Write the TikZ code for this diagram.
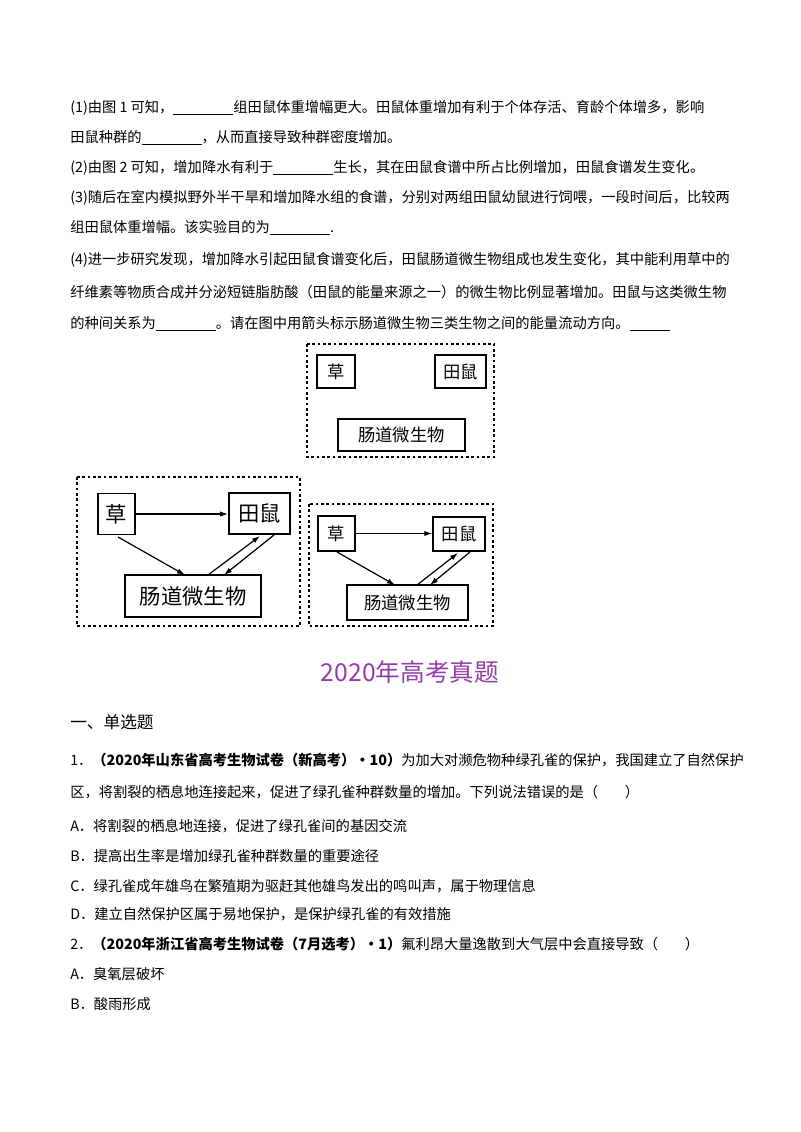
\documentclass[tikz,border=0pt]{standalone}
\usepackage{fontspec}
\setmainfont{Noto Sans CJK SC}
\newfontfamily\cjk{Noto Sans CJK SC}
\usetikzlibrary{arrows.meta}
\definecolor{ttl}{RGB}{150,60,170}
\tikzset{
 ln/.style={anchor=west,inner sep=0pt,font=\fontsize{10.7pt}{12pt}\selectfont},
 bx/.style={draw,line width=1.1pt,inner sep=0pt,font=\fontsize{13pt}{14pt}\selectfont},
 fr/.style={draw,line width=1.3pt,dash pattern=on 2pt off 2pt},
 ar/.style={-{Latex[length=6pt,width=4pt]},line width=0.9pt}
}
\begin{document}
\begin{tikzpicture}[x=0.75pt,y=-0.75pt]
\useasboundingbox (0,0) rectangle (800,1132);
\node[ln] (l1) at (70,108) {(1)由图 1 可知，\underline{\hspace{45pt}}组田鼠体重增幅更大。田鼠体重增加有利于个体存活、育龄个体增多，影响};
\node[ln] (l2) at (70,138) {田鼠种群的\underline{\hspace{45pt}}，从而直接导致种群密度增加。};
\node[ln] (l3) at (70,168) {(2)由图 2 可知，增加降水有利于\underline{\hspace{45pt}}生长，其在田鼠食谱中所占比例增加，田鼠食谱发生变化。};
\node[ln] (l4) at (70,198) {(3)随后在室内模拟野外半干旱和增加降水组的食谱，分别对两组田鼠幼鼠进行饲喂，一段时间后，比较两};
\node[ln] (l5) at (70,228) {组田鼠体重增幅。该实验目的为\underline{\hspace{45pt}}.};
\node[ln] (l6) at (70,260) {(4)进一步研究发现，增加降水引起田鼠食谱变化后，田鼠肠道微生物组成也发生变化，其中能利用草中的};
\node[ln] (l7) at (70,292) {纤维素等物质合成并分泌短链脂肪酸（田鼠的能量来源之一）的微生物比例显著增加。田鼠与这类微生物};
\node[ln] (l8) at (70,324) {的种间关系为\underline{\hspace{45pt}}。请在图中用箭头标示肠道微生物三类生物之间的能量流动方向。\underline{\hspace{30pt}}};
% top diagram
\draw[fr] (307,344) rectangle (494,457);
\node[bx,minimum width=28.5pt,minimum height=25pt] (ca) at (336,371.5) {草};
\node[bx,minimum width=38pt,minimum height=25pt] (ta) at (460.5,371.5) {田鼠};
\node[bx,minimum width=95pt,minimum height=24pt] (ma) at (401.5,435) {肠道微生物};
% bottom left
\draw[fr] (77,477) rectangle (300,626);
\node[bx,minimum width=28pt,minimum height=31pt,font=\fontsize{16pt}{17pt}\selectfont] (cb) at (116.5,514) {草};
\node[bx,minimum width=46pt,minimum height=31pt,font=\fontsize{16pt}{17pt}\selectfont] (tb) at (259.5,513.5) {田鼠};
\node[bx,minimum width=102pt,minimum height=31.5pt,font=\fontsize{16pt}{17pt}\selectfont] (mb) at (193,596) {肠道微生物};
\draw[ar] (cb.east) -- (tb.west|-cb.east);
\draw[ar] (118,537) -- (185,575);
\draw[ar] (208,575) -- (260,536);
\draw[ar] (274,535) -- (224,575);
% bottom right
\draw[fr] (309,504) rectangle (493,626);
\node[bx,minimum width=28pt,minimum height=26pt] (cc) at (336.5,533.5) {草};
\node[bx,minimum width=39pt,minimum height=25.5pt] (tc) at (459,534) {田鼠};
\node[bx,minimum width=91pt,minimum height=26pt] (mc) at (407.5,602.5) {肠道微生物};
\draw[ar] (cc.east) -- (tc.west|-cc.east);
\draw[ar] (337,552) -- (395,585);
\draw[ar] (417,585) -- (458,553);
\draw[ar] (470,552) -- (430,585);
% title
\node[ttl,font=\fontsize{18.5pt}{20pt}\selectfont] (title) at (410,672) {2020年高考真题};
\node[ln,font=\fontsize{12.5pt}{14pt}\selectfont] (sec) at (70,722) {一、单选题};
\node[ln] (q1) at (70,760) {1．\textbf{（2020年山东省高考生物试卷（新高考）•10）}为加大对濒危物种绿孔雀的保护，我国建立了自然保护};
\node[ln] (q1b) at (70,792) {区，将割裂的栖息地连接起来，促进了绿孔雀种群数量的增加。下列说法错误的是（\hspace{20pt}）};
\node[ln] (a1) at (70,826) {A．将割裂的栖息地连接，促进了绿孔雀间的基因交流};
\node[ln] (b1) at (70,856) {B．提高出生率是增加绿孔雀种群数量的重要途径};
\node[ln] (c1) at (70,886) {C．绿孔雀成年雄鸟在繁殖期为驱赶其他雄鸟发出的鸣叫声，属于物理信息};
\node[ln] (d1) at (70,914) {D．建立自然保护区属于易地保护，是保护绿孔雀的有效措施};
\node[ln] (q2) at (70,944) {2．\textbf{（2020年浙江省高考生物试卷（7月选考）•1）}氟利昂大量逸散到大气层中会直接导致（\hspace{20pt}）};
\node[ln] (a2) at (70,974) {A．臭氧层破坏};
\node[ln] (b2) at (70,1004) {B．酸雨形成};
\end{tikzpicture}
\end{document}
